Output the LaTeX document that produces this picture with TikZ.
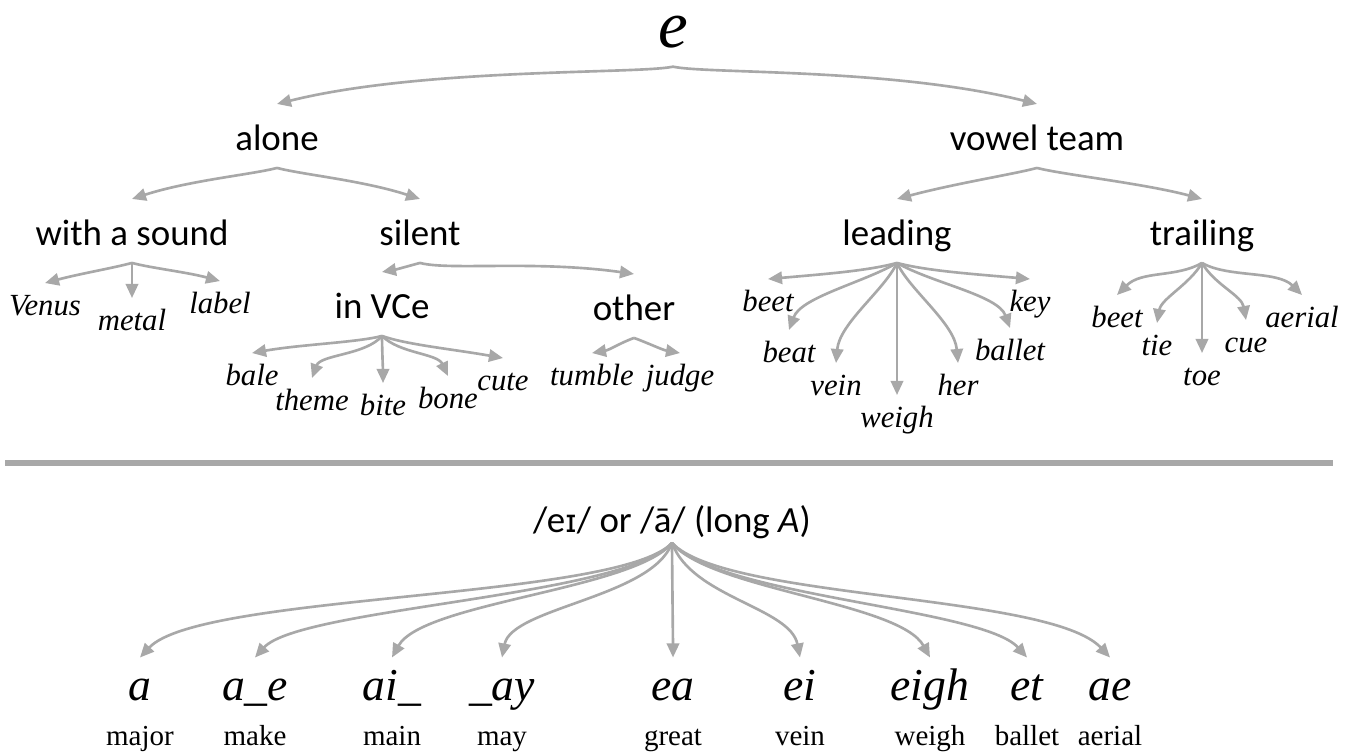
\documentclass[tikz,border=0pt]{standalone}
\usepackage{fontspec}
\setmainfont{Liberation Serif}
\newfontfamily\calfont{Carlito}
\newfontfamily\ipafont{DejaVu Sans}
\usetikzlibrary{arrows.meta}

\definecolor{linegray}{RGB}{168,168,168}

\tikzset{
    branch/.style={draw=linegray, line width=1.5pt, -{Triangle[length=8pt,width=7pt]}},
    root/.style={font=\itshape\fontsize{38}{42}\selectfont, text height=19pt, text depth=8pt, inner ysep=3pt, anchor=base},
    cat/.style={font=\calfont\fontsize{21}{25}\selectfont, text height=20pt, text depth=4pt, inner ysep=6pt, inner xsep=0pt, anchor=base},
    leaf/.style={font=\itshape\fontsize{17.5}{20}\selectfont, text height=14pt, text depth=4pt, inner ysep=4pt, inner xsep=0pt, anchor=base},
    spell/.style={font=\itshape\fontsize{26}{30}\selectfont, text height=20pt, text depth=5pt, inner ysep=4pt, inner xsep=0pt, anchor=base},
    word/.style={font=\fontsize{16.5}{20}\selectfont, inner sep=0pt, anchor=base},
}

\begin{document}
\begin{tikzpicture}[x=0.02cm, y=0.02cm]
                \useasboundingbox (0,0) rectangle (1348,-751);
                \fill[white] (0,0) rectangle (1348,-751);

                % Draw upper tree
                \node[root] (e) at (673,-47) {e};
                \node[cat] (alone) at (277,-150) {alone};
                \node[cat] (team) at (1037,-150) {vowel team};
                \node[cat] (sound) at (132,-245) {with a sound};
                \node[cat] (silent) at (420,-245) {silent};
                \node[cat] (vce) at (382,-318) {in VCe};
                \node[cat] (other) at (634,-320) {other};
                \node[cat] (leading) at (897,-245) {leading};
                \node[cat] (trailing) at (1202,-245) {trailing};

                \draw[branch] (e.south) .. controls +(-168:36) and +(14:150) .. (alone.north);
                \draw[branch] (e.south) .. controls +(-12:36) and +(166:150) .. (team.north);
                \draw[branch] (alone.south) .. controls +(-165:25) and +(18:60) .. (sound.north);
                \draw[branch] (alone.south) .. controls +(-15:25) and +(162:60) .. (silent.north);
                \draw[branch] (silent.south) .. controls +(-165:10) and +(10:15) .. (vce.north);
                \draw[branch] (silent.south) .. controls +(-15:30) and +(172:100) .. (other.north);
                \draw[branch] (team.south) .. controls +(-165:25) and +(15:60) .. (leading.north);
                \draw[branch] (team.south) .. controls +(-15:25) and +(165:60) .. (trailing.north);

                % Draw leaves
                \foreach \nm/\x/\y/\txt/\oa/\ol/\ia/\il in {venus/45/315/Venus/-165/20/15/35, metal/132/330/metal/-90/10/90/10, label/220/313/label/-15/20/165/35} {
                    \node[leaf] (\nm) at (\x,-\y) {\txt};
                    \draw[branch] (sound.south) .. controls +(\oa:\ol) and +(\ia:\il) .. (\nm.north);
                }
                \foreach \nm/\x/\y/\txt/\oa/\ol/\ia/\il in {bale/252/385/bale/-165/25/10/50, theme/312/410/theme/-130/25/70/25, bite/383/415/bite/-90/10/90/10, bone/448/408/bone/-45/25/115/25, cute/503/390/cute/-20/25/170/50} {
                    \node[leaf] (\nm) at (\x,-\y) {\txt};
                    \draw[branch] (vce.south) .. controls +(\oa:\ol) and +(\ia:\il) .. (\nm.north);
                }
                \foreach \nm/\x/\y/\txt/\oa/\ol/\ia/\il in {tumble/592/385/tumble/-160/15/10/18, judge/680/385/judge/-20/15/170/18} {
                    \node[leaf] (\nm) at (\x,-\y) {\txt};
                    \draw[branch] (other.south) .. controls +(\oa:\ol) and +(\ia:\il) .. (\nm.north);
                }
                \foreach \nm/\x/\y/\txt/\oa/\ol/\ia/\il in {lbeet/768/311/beet/-165/30/5/60, beat/789/362/beat/-150/40/70/35, lvein/836/395/vein/-115/30/85/40, lweigh/897/427/weigh/-90/10/90/10, her/958/395/her/-65/30/95/40, ballet/1010/360/ballet/-30/40/110/35, key/1030/311/key/-15/30/175/60} {
                    \node[leaf] (\nm) at (\x,-\y) {\txt};
                    \draw[branch] (leading.south) .. controls +(\oa:\ol) and +(\ia:\il) .. (\nm.north);
                }
                \foreach \nm/\x/\y/\txt/\oa/\ol/\ia/\il in {tbeet/1117/327/beet/-150/30/45/35, tie/1157/355/tie/-120/25/80/25, toe/1202/385/toe/-90/10/90/10, cue/1246/352/cue/-60/25/100/25, aerial/1302/327/aerial/-30/30/135/35} {
                    \node[leaf] (\nm) at (\x,-\y) {\txt};
                    \draw[branch] (trailing.south) .. controls +(\oa:\ol) and +(\ia:\il) .. (\nm.north);
                }

                % Draw separator
                \draw[linegray, line width=3pt] (5,-463) -- (1333,-463);

                % Draw lower fan
                \node[cat, inner ysep=2pt] (hd) at (672,-532) {/e{\ipafont\fontsize{18}{22}\selectfont ɪ}/ or /ā/ (long \textit{A})};
                \foreach \x/\sp/\wrd/\oa/\ol/\ia/\il [count=\i] in {140/a/major/-133/78/47/88, 255/a\_e/make/-130/70/48/67, 392/ai\_/main/-129/60/61/63, 502/\_ay/may/-110/58/79/51, 673/ea/great/-90/10/90/10, 800/ei/vein/-70/58/101/51, 930/eigh/weigh/-51/60/119/63, 1027/et/ballet/-50/70/132/67, 1110/ae/aerial/-47/78/133/88} {
                    \node[spell] (sp\i) at (\x,-700) {\sp};
                    \node[word] (wd\i) at (\x,-745) {\wrd};
                    \draw[branch] (hd.south) .. controls +(\oa:\ol) and +(\ia:\il) .. (sp\i.north);
                }
\end{tikzpicture}
\end{document}
